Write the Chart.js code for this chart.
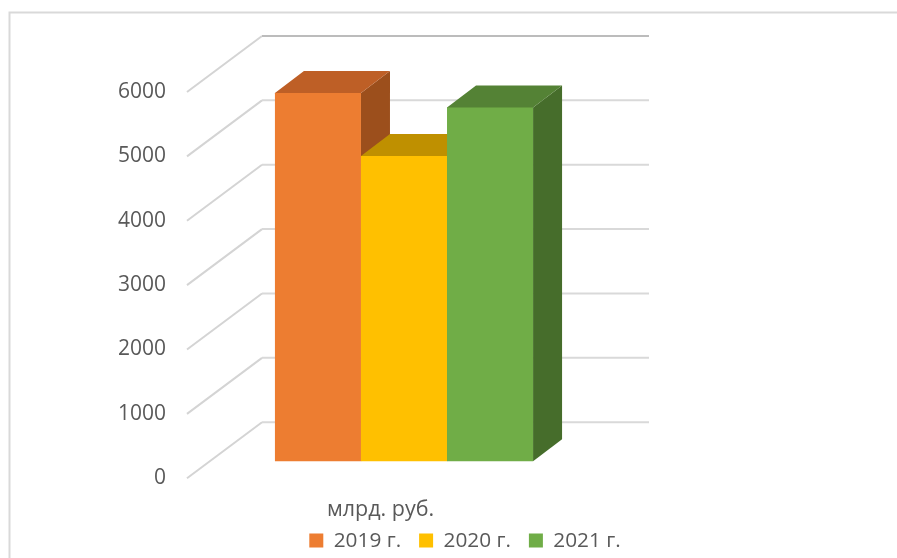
<!DOCTYPE html>
<html>
<head>
<meta charset="utf-8">
<style>
  html, body { margin: 0; padding: 0; background: #fff; }
  canvas { display: block; }
</style>
<script src="https://cdn.jsdelivr.net/npm/chart.js@4"></script>
</head>
<body>
<canvas id="chart" width="897" height="558"></canvas>
<script>
const categories = ['млрд. руб.'];
const seriesNames = ['2019 г.', '2020 г.', '2021 г.'];
const seriesValues = [[5720], [4740], [5495]];
const frontColors = ['#ED7D31', '#FFC000', '#70AD47'];
const topColors = ['#BE5F26', '#BF9000', '#548235'];
const sideColors = ['#9C4F1C', '#A57C00', '#466D2B'];

// 3D look: how far the back wall and the bars sit from the front plane
const wallDx = 75, wallDy = 56;
const barDx = 23.5, barDy = 17;
const depthDx = 29, depthDy = 22;

function poly(ctx, color, pts) {
    ctx.fillStyle = color;
    ctx.beginPath();
    pts.forEach((p, i) => i ? ctx.lineTo(p[0], p[1]) : ctx.moveTo(p[0], p[1]));
    ctx.closePath();
    ctx.fill();
}

const fake3d = {
    id: 'fake3d',
    beforeDatasetsDraw(chart) {
        const ctx = chart.ctx;
        const { left, right } = chart.chartArea;
        const y = chart.scales.y;

        // outer frame, runs off the right and bottom of the picture
        ctx.save();
        ctx.strokeStyle = '#d9d9d9';
        ctx.lineWidth = 2;
        ctx.beginPath();
        ctx.moveTo(9.5, chart.height + 2);
        ctx.lineTo(9.5, 12.5);
        ctx.lineTo(chart.width + 2, 12.5);
        ctx.stroke();

        // side wall + back wall gridlines
        y.ticks.forEach((t, i) => {
            const py = y.getPixelForValue(t.value);
            ctx.strokeStyle = '#d4d4d4';
            ctx.beginPath();
            ctx.moveTo(left, py);
            ctx.lineTo(left + wallDx, py - wallDy);
            ctx.stroke();
            ctx.strokeStyle = t.value === y.max ? '#bcbcbc' : '#d9d9d9';
            ctx.beginPath();
            ctx.moveTo(left + wallDx, py - wallDy);
            ctx.lineTo(right + wallDx, py - wallDy);
            ctx.stroke();
        });

        // bars, left to right so that each one covers the side of the previous
        ctx.translate(barDx, -barDy);
        seriesNames.forEach((name, i) => {
            const bar = chart.getDatasetMeta(i).data[0];
            const l = bar.x - bar.width / 2, r = bar.x + bar.width / 2;
            const t = bar.y, b = bar.base;
            poly(ctx, sideColors[i], [[r, t], [r + depthDx, t - depthDy], [r + depthDx, b - depthDy], [r, b]]);
            // top face runs 1px under the front so no seam shows between them
            poly(ctx, topColors[i], [[l, t + 1], [l, t], [l + depthDx, t - depthDy], [r + depthDx, t - depthDy], [r, t], [r, t + 1]]);
            bar.draw(ctx);
        });
        ctx.restore();
        return false;
    }
};

new Chart(document.getElementById('chart'), {
    type: 'bar',
    data: {
        labels: categories,
        datasets: seriesNames.map((name, i) => ({
            label: name,
            data: seriesValues[i],
            backgroundColor: frontColors[i],
            borderWidth: 0,
            barPercentage: 1,
            categoryPercentage: 0.667
        }))
    },
    options: {
        responsive: false,
        animation: false,
        layout: { padding: { left: 33, top: 92, right: 0, bottom: -3 } },
        scales: {
            x: {
                grid: { display: false },
                border: { display: false },
                // mirror only switches off the clipping to the short axis box
                ticks: { color: '#595959', font: { family: 'Open Sans', size: 21.5 }, mirror: true, padding: -45 },
                afterFit(s) { s.height = 34; }
            },
            y: {
                min: 0,
                max: 6000,
                grid: { display: false },
                border: { display: false },
                ticks: {
                    stepSize: 1000,
                    color: '#595959',
                    font: { family: 'Open Sans', size: 21 },
                    padding: 13,
                    callback: v => String(v)
                },
                afterFit(s) { s.width = 154; }
            },
            // empty axis, only keeps the plot narrow while the legend spans the full width
            spacer: {
                position: 'right',
                grid: { display: false },
                border: { display: false },
                ticks: { display: false },
                afterFit(s) { s.width = 323; }
            }
        },
        plugins: {
            title: { display: false },
            tooltip: { enabled: false },
            legend: {
                position: 'bottom',
                labels: {
                    boxWidth: 14,
                    boxHeight: 14,
                    padding: 18,
                    color: '#595959',
                    font: { family: 'Open Sans', size: 20.8 }
                }
            }
        }
    },
    plugins: [fake3d]
});
</script>
</body>
</html>
